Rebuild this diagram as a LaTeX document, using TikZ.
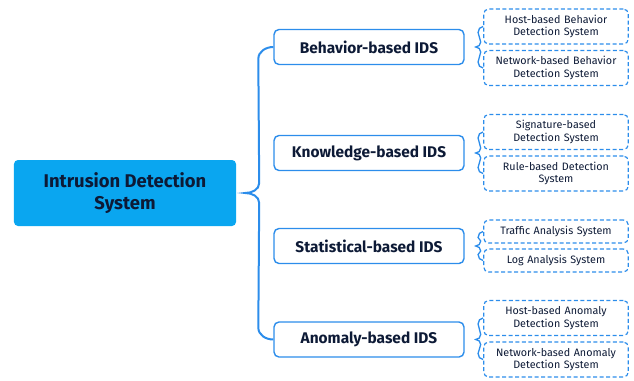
\documentclass[tikz,border=0pt]{standalone}
\usepackage{fontspec}
\setmainfont{Fira Sans}
\usetikzlibrary{calc}
\definecolor{rootfill}{HTML}{0AA6F0}
\definecolor{lineblue}{HTML}{2C8DEB}
\definecolor{txt}{HTML}{0D1A36}
\tikzset{
  rootbox/.style={fill=rootfill, rounded corners=4bp, minimum width=222bp, minimum height=66bp,
    align=center, text=txt, font=\fontsize{18.5}{22}\selectfont\bfseries},
  lonebox/.style={draw=lineblue, line width=1.4bp, fill=white, rounded corners=5bp,
    minimum width=190bp, minimum height=35bp, text=txt, font=\fontsize{15.5}{18}\selectfont\bfseries},
  ltwobox/.style={draw=lineblue, line width=1.2bp, dash pattern=on 4bp off 2.5bp, rounded corners=5bp,
    minimum width=142bp, text width=138bp, align=center, text=txt, font=\fontsize{10.8}{12.5}\selectfont},
  conn/.style={draw=lineblue, line width=2bp},
  sconn/.style={draw=lineblue, line width=1.3bp},
}
\newcommand\smallbrace[3]{%
  \coordinate (#1tip) at ($(#1.east)+(11,0)$);
  \draw[sconn] (#2.west) to[out=180,in=90] ++(-5,6) -- ($(#1tip)+(5,-5)$)
    to[out=-90,in=0] (#1tip) to[out=0,in=90] ($(#1tip)+(5,5)$)
    -- ($(#3.west)+(-5,-6)$) to[out=-90,in=180] (#3.west);
}
\begin{document}
\begin{tikzpicture}[x=1bp,y=-1bp]
\useasboundingbox (0,0) rectangle (634,380);
\node[rootbox] (root) at (125,193) {Intrusion Detection\\System};

\node[lonebox] (b1) at (369,47) {Behavior-based IDS};
\node[lonebox] (k1) at (369,153) {Knowledge-based IDS};
\node[lonebox] (s1) at (369,246) {Statistical-based IDS};
\node[lonebox] (a1) at (369,339.5) {Anomaly-based IDS};

\node[ltwobox, minimum height=35bp] (b2a) at (556,26.5) {Host-based Behavior\\Detection System};
\node[ltwobox, minimum height=35bp] (b2b) at (556,68) {Network-based Behavior\\Detection System};
\node[ltwobox, minimum height=35bp] (k2a) at (556,132) {Signature-based\\Detection System};
\node[ltwobox, minimum height=35bp] (k2b) at (556,173.5) {Rule-based Detection\\System};
\node[ltwobox, minimum height=23bp] (s2a) at (556,231.5) {Traffic Analysis System};
\node[ltwobox, minimum height=23bp] (s2b) at (556,260.5) {Log Analysis System};
\node[ltwobox, minimum height=35bp] (a2a) at (556,318) {Host-based Anomaly\\Detection System};
\node[ltwobox, minimum height=35bp] (a2b) at (556,359.5) {Network-based Anomaly\\Detection System};

\coordinate (rt) at ($(root.east)+(9,0)$);
\draw[conn] (b1.west) to[out=180,in=90] ++(-15,12) -- ($(rt)+(14,-10)$)
  to[out=-90,in=0] (rt) to[out=0,in=90] ($(rt)+(14,10)$)
  -- ($(a1.west)+(-15,-12)$) to[out=-90,in=180] (a1.west);

\smallbrace{b1}{b2a}{b2b}
\smallbrace{k1}{k2a}{k2b}
\smallbrace{s1}{s2a}{s2b}
\smallbrace{a1}{a2a}{a2b}
\end{tikzpicture}
\end{document}
